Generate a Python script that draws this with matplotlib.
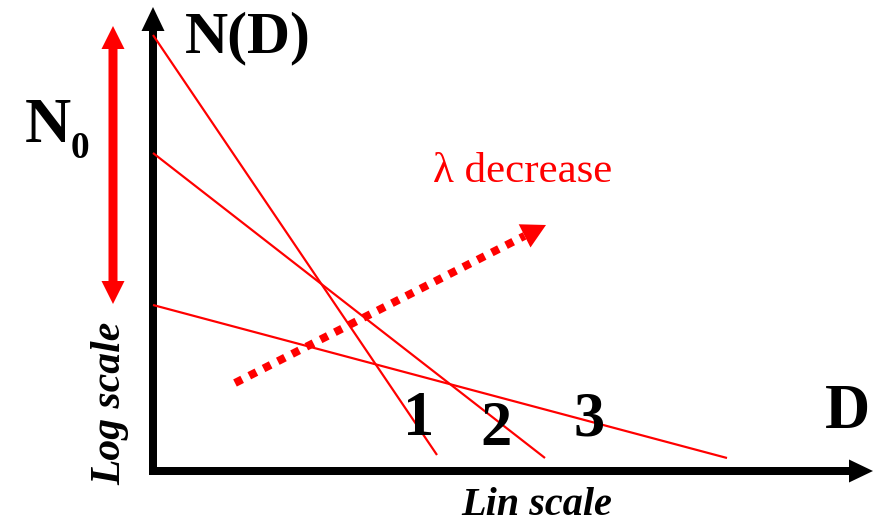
import matplotlib
matplotlib.use("Agg")
import matplotlib.pyplot as plt
from matplotlib.patches import FancyArrow
import numpy as np

# Size distributions N(D) = N0 exp(-lambda D): straight lines on a log-N / linear-D plot.
# Values are in diagram units (log N on the vertical, D on the horizontal).
curve_labels = ["1", "2", "3"]
logn_start = [8.72, 6.36, 3.32]   # log N0 of each curve (value at D = 0)
d_end = [5.68, 7.84, 11.48]       # D where each curve stops
logn_end = [0.32, 0.26, 0.26]     # log N at that D

# Range of N0 values shown by the double arrow
n0_range = [3.34, 8.90]

# Direction of decreasing lambda (dotted arrow)
lam_arrow_start = [1.64, 1.76]
lam_arrow_tip = [7.86, 4.92]

RED = "#ff0000"
SERIF = "Liberation Serif"
PX = 50.0  # pixels per diagram unit

fig = plt.figure(figsize=(8.77, 5.25), dpi=100)
ax = fig.add_axes([0, 0, 1, 1])
ax.set_xlim(-153 / PX, (877 - 153) / PX)
ax.set_ylim(-(525 - 471) / PX, 471 / PX)
ax.set_aspect("equal", adjustable="datalim")
ax.axis("off")

lw_px = lambda p: p * 72.0 / 100.0  # pixels -> points

# Axes drawn as thick black arrows
ax.add_patch(FancyArrow(0, -0.08, 0, 9.36, width=0.16, head_width=0.46,
                        head_length=0.48, length_includes_head=True,
                        color="black", lw=0))
ax.add_patch(FancyArrow(-0.08, 0, 14.48, 0, width=0.16, head_width=0.46,
                        head_length=0.48, length_includes_head=True,
                        color="black", lw=0))

# The three distributions
for y0, x1, y1 in zip(logn_start, d_end, logn_end):
    ax.plot([0, x1], [y0, y1], color=RED, lw=lw_px(2.2), solid_capstyle="butt")

for lab, (x, y) in zip(curve_labels, [(5.32, 0.72), (6.86, 0.52), (8.72, 0.72)]):
    ax.text(x, y, lab, fontsize=45, fontweight="bold", family=SERIF,
            ha="center", va="baseline")

# Double-headed arrow for the N0 range
xa = -0.80
mid = 0.5 * (n0_range[0] + n0_range[1])
for end in n0_range:
    ax.add_patch(FancyArrow(xa, mid, 0, end - mid, width=0.18, head_width=0.46,
                            head_length=0.46, length_includes_head=True,
                            color=RED, lw=0))

# Dotted arrow: lambda decreasing
sx, sy = lam_arrow_start
tx, ty = lam_arrow_tip
v = np.array([tx - sx, ty - sy])
u = v / np.hypot(*v)
head_len = 0.48
bx, by = tx - u[0] * head_len, ty - u[1] * head_len
ax.plot([sx, bx], [sy, by], color=RED, lw=lw_px(8), linestyle=(0, (1, 1)),
        dash_capstyle="butt", solid_capstyle="butt")
ax.add_patch(FancyArrow(bx, by, u[0] * head_len, u[1] * head_len, width=0.001,
                        head_width=0.52, head_length=head_len,
                        length_includes_head=True, color=RED, lw=0))

# Labels
ax.text(0.64, 8.38, "N(D)", fontsize=43, fontweight="bold", family=SERIF,
        ha="left", va="baseline")
ax.text(-2.56, 6.58, "N", fontsize=46, fontweight="bold", family=SERIF,
        ha="left", va="baseline")
ax.text(-1.64, 6.26, "0", fontsize=27, fontweight="bold", family=SERIF,
        ha="left", va="baseline")
ax.text(13.88, 0.86, "D", fontsize=45, fontweight="bold", family=SERIF,
        ha="center", va="baseline")
ax.text(5.60, 5.78, "\u03bb decrease", fontsize=31, color=RED, family=SERIF,
        ha="left", va="baseline")
ax.text(-0.66, 1.36, "Log scale", fontsize=30, fontweight="bold",
        fontstyle="italic", family=SERIF, rotation=90, rotation_mode="anchor",
        ha="center", va="baseline")
ax.text(7.68, -0.88, "Lin scale", fontsize=29, fontweight="bold",
        fontstyle="italic", family=SERIF, ha="center", va="baseline")

fig.savefig("out.png", dpi=100)
